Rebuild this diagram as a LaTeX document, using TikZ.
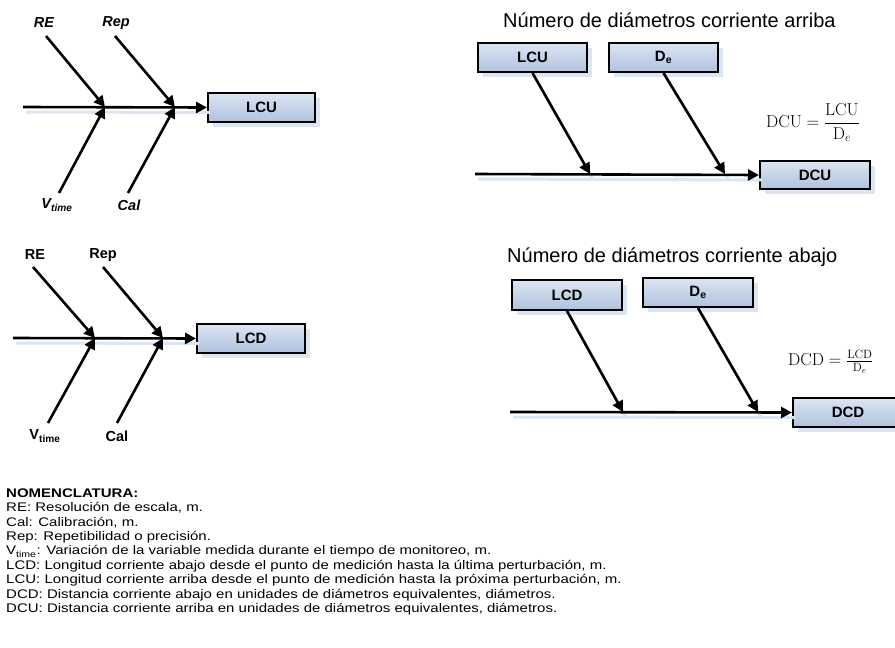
\documentclass[tikz,border=0pt]{standalone}
\usepackage{amsmath}
\usepackage[no-math]{fontspec}
\setmainfont{Liberation Sans}
\usetikzlibrary{arrows.meta,shadows}
\definecolor{boxtop}{HTML}{DCE5F2}
\definecolor{boxbot}{HTML}{AFC2DE}
\definecolor{shblue}{HTML}{DCE6F2}
\tikzset{
 fbox/.style={draw=black, line width=2pt, top color=boxtop, bottom color=boxbot,
   minimum height=29pt, inner sep=0pt, font=\fontsize{15}{17}\selectfont\bfseries,
   general shadow={fill=shblue, shadow xshift=5pt, shadow yshift=-5pt}},
 arr/.style={line width=2.6pt, -{Triangle[length=11pt,width=11pt]}},
 shl/.style={draw=shblue, line width=3pt, transform canvas={xshift=3pt,yshift=-5pt}},
 lbli/.style={font=\fontsize{14.5}{16}\selectfont\bfseries\itshape, inner sep=0pt},
 lblu/.style={font=\fontsize{14.5}{16}\selectfont\bfseries, inner sep=0pt},
 ttl/.style={font=\fontsize{20}{22}\selectfont, inner sep=0pt, anchor=west},
 frm/.style={font=\fontsize{17}{20}\selectfont, inner sep=0pt, anchor=west},
}
\begin{document}
\begin{tikzpicture}[x=1pt,y=-1pt]
\clip (0,0) rectangle (895,648);
\fill[white] (0,0) rectangle (895,648);
% ---------- Diagram A ----------
\coordinate (a0) at (23,107);
\coordinate (aj1) at (105,107);
\coordinate (aj2) at (175,107);
\coordinate (a1) at (46,36);
\coordinate (a2) at (115,36);
\coordinate (a3) at (59,193);
\coordinate (a4) at (128,193);
\node[fbox, minimum width=107pt] (LCUa) at (261.5,107.5) {LCU};
\draw[shl] (a0) -- (LCUa.west);
\draw[arr] (a0) -- (LCUa.west);
\draw[arr] (a1) -- (aj1);
\draw[arr] (a2) -- (aj2);
\draw[arr] (a3) -- (aj1);
\draw[arr] (a4) -- (aj2);
\node[lbli] (REa) at (44,23) {RE};
\node[lbli] (Repa) at (116,23) {Rep};
\node[lbli] (Vta) at (57,205) {V\textsubscript{time}};
\node[lbli] (Cala) at (129,205) {Cal};
% ---------- Diagram B ----------
\coordinate (b0) at (13,338);
\coordinate (bj1) at (95,338);
\coordinate (bj2) at (163,338);
\coordinate (b1) at (33,267);
\coordinate (b2) at (103,267);
\coordinate (b3) at (48,423);
\coordinate (b4) at (117,423);
\node[fbox, minimum width=108pt] (LCDb) at (251,338.5) {LCD};
\draw[shl] (b0) -- (LCDb.west);
\draw[arr] (b0) -- (LCDb.west);
\draw[arr] (b1) -- (bj1);
\draw[arr] (b2) -- (bj2);
\draw[arr] (b3) -- (bj1);
\draw[arr] (b4) -- (bj2);
\node[lblu] (REb) at (35,255) {RE};
\node[lblu] (Repb) at (103,255) {Rep};
\node[lblu] (Vtb) at (45,436) {V\textsubscript{time}};
\node[lblu] (Calb) at (117,436) {Cal};
% ---------- Diagram C ----------
\node[ttl] (ttlc) at (503,20) {Número de diámetros corriente arriba};
\node[fbox, minimum width=109pt] (LCUc) at (532.5,57.5) {LCU};
\node[fbox, minimum width=109pt] (Dec) at (663.5,57.5) {D\textsubscript{e}};
\node[fbox, minimum width=110pt, minimum height=28pt] (DCUc) at (815,175) {DCU};
\coordinate (c0) at (475,174);
\coordinate (cj1) at (590,174);
\coordinate (cj2) at (725,174);
\draw[shl] (c0) -- (DCUc.west);
\draw[shl] (LCUc.south) -- (cj1);
\draw[shl] (Dec.south) -- (cj2);
\draw[arr] (c0) -- (DCUc.west);
\draw[arr] (LCUc.south) -- (cj1);
\draw[arr] (Dec.south) -- (cj2);
\node[frm] (fc) at (766,123) {$\mathrm{DCU}=\dfrac{\mathrm{LCU}}{\mathrm{D}_e}$};
% ---------- Diagram D ----------
\node[ttl] (ttld) at (507,257) {Número de diámetros corriente abajo};
\node[fbox, minimum width=110pt, minimum height=30pt] (LCDd) at (567,295) {LCD};
\node[fbox, minimum width=110pt] (Ded) at (698,292.5) {D\textsubscript{e}};
\node[fbox, minimum width=110pt] (DCDd) at (848,412.5) {DCD};
\coordinate (d0) at (510,412);
\coordinate (dj1) at (623,412);
\coordinate (dj2) at (758,412);
\draw[shl] (d0) -- (DCDd.west);
\draw[shl] (LCDd.south) -- (dj1);
\draw[shl] (Ded.south) -- (dj2);
\draw[arr] (d0) -- (DCDd.west);
\draw[arr] (LCDd.south) -- (dj1);
\draw[arr] (Ded.south) -- (dj2);
\node[frm, font=\fontsize{18}{22}\selectfont] (fd) at (788,362) {$\mathrm{DCD}=\tfrac{\mathrm{LCD}}{\mathrm{D}_e}$};
% ---------- Nomenclature ----------
\node[anchor=north west, inner sep=0pt] (nom) at (6,487) {\scalebox{1.2}[1]{%
\fontsize{12.5}{14.4}\selectfont
\begin{tabular}{@{}l@{}}
\textbf{NOMENCLATURA:}\\
RE: Resolución de escala, m.\\
Cal: Calibración, m.\\
Rep: Repetibilidad o precisión.\\
V\textsubscript{time}: Variación de la variable medida durante el tiempo de monitoreo, m.\\
LCD: Longitud corriente abajo desde el punto de medición hasta la última perturbación, m.\\
LCU: Longitud corriente arriba desde el punto de medición hasta la próxima perturbación, m.\\
DCD: Distancia corriente abajo en unidades de diámetros equivalentes, diámetros.\\
DCU: Distancia corriente arriba en unidades de diámetros equivalentes, diámetros.
\end{tabular}}};
\end{tikzpicture}
\end{document}
